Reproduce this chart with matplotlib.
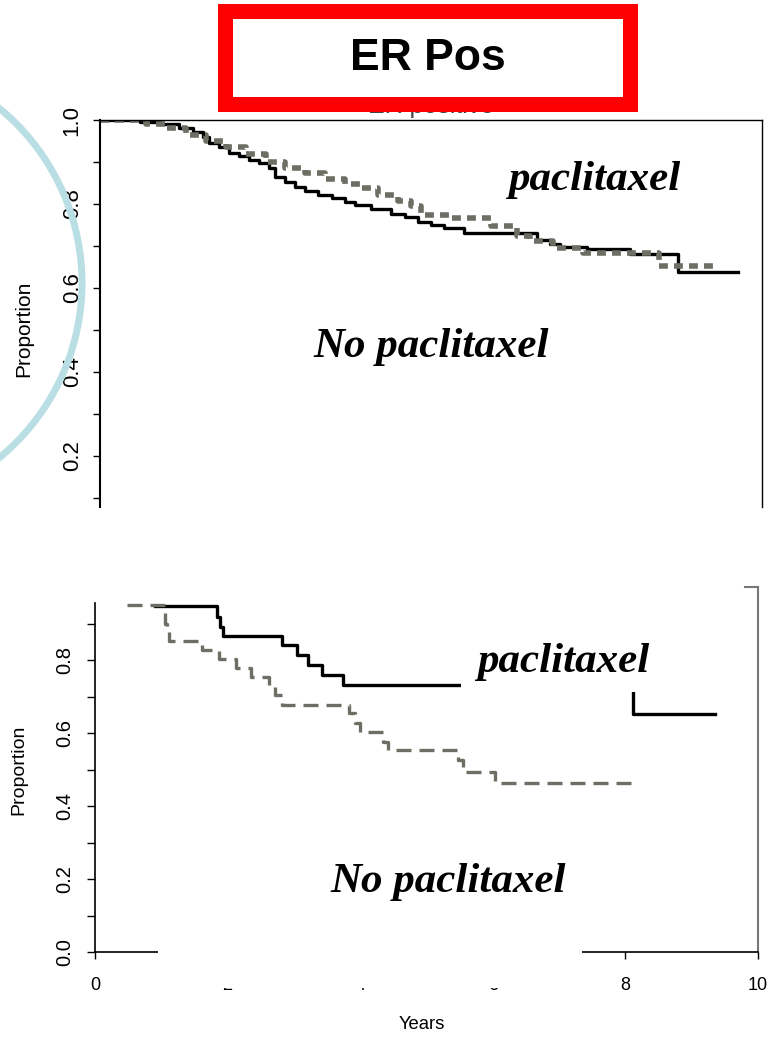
import matplotlib
matplotlib.use("Agg")
import matplotlib.pyplot as plt
from matplotlib.patches import Rectangle, Circle

plt.rcParams['font.family'] = ['Liberation Sans', 'DejaVu Sans']

# top panel (ER positive) - Kaplan-Meier steps
top_solid_t = [0, 0.6, 0.9, 1.2, 1.4, 1.55, 1.65, 1.8, 1.95, 2.1, 2.25, 2.4, 2.55, 2.65,
               2.8, 2.95, 3.1, 3.3, 3.5, 3.7, 3.85, 4.1, 4.4, 4.6, 4.8, 5.0, 5.2, 5.5,
               6.6, 6.8, 6.95, 7.35, 8.0, 8.73, 9.64]
top_solid_s = [1.0, 0.995, 0.99, 0.98, 0.972, 0.96, 0.945, 0.935, 0.922, 0.915, 0.905, 0.897,
               0.886, 0.865, 0.852, 0.84, 0.83, 0.822, 0.815, 0.805, 0.797, 0.788, 0.777, 0.77,
               0.757, 0.75, 0.743, 0.731, 0.715, 0.705, 0.697, 0.693, 0.681, 0.638, 0.638]
top_dash_t = [0, 0.7, 1.0, 1.3, 1.6, 1.9, 2.2, 2.5, 2.8, 3.1, 3.4, 3.7, 3.95, 4.2, 4.5,
              4.7, 4.85, 5.3, 5.9, 6.3, 6.5, 6.85, 7.3, 8.45, 9.34]
top_dash_s = [1.0, 0.99, 0.98, 0.965, 0.95, 0.935, 0.918, 0.9, 0.885, 0.875, 0.86, 0.848,
              0.837, 0.822, 0.808, 0.795, 0.775, 0.767, 0.748, 0.725, 0.712, 0.695, 0.683,
              0.652, 0.652]

# bottom panel
bot_solid_t = [0.9, 1.84, 1.88, 1.93, 2.82, 3.04, 3.22, 3.42, 3.74, 8.12, 9.35]
bot_solid_s = [0.948, 0.918, 0.89, 0.866, 0.841, 0.814, 0.786, 0.759, 0.731, 0.652, 0.652]
bot_dash_t = [0.48, 1.05, 1.08, 1.12, 1.62, 1.87, 2.12, 2.36, 2.62, 2.72, 2.82, 3.83, 3.92,
              4.0, 4.35, 4.42, 5.47, 5.55, 6.03, 8.12]
bot_dash_s = [0.951, 0.90, 0.877, 0.852, 0.827, 0.803, 0.778, 0.753, 0.726, 0.704, 0.677,
              0.655, 0.627, 0.603, 0.575, 0.553, 0.526, 0.493, 0.463, 0.463]

top_major = [0.2, 0.4, 0.6, 0.8, 1.0]
top_minor = [0.1, 0.3, 0.5, 0.7, 0.9]
bot_major = [0.0, 0.2, 0.4, 0.6, 0.8]
bot_minor = [0.1, 0.3, 0.5, 0.7, 0.9]
x_ticks = [0, 2, 4, 6, 8, 10]

W, H = 776, 1041
fig = plt.figure(figsize=(W / 100, H / 100), dpi=100)
gray = '#6e6e64'

# ---- top panel
ax1 = fig.add_axes([100 / W, 1 - 507 / H, 662 / W, 387 / H])
ax1.step(top_solid_t, top_solid_s, where='post', color='black', lw=2.4)
ax1.step(top_dash_t, top_dash_s, where='post', color=gray, lw=4.0, dashes=(1.6, 1.1))
ax1.set_xlim(0, 10)
ax1.set_ylim(0.0786, 1.0)
ax1.set_xticks([])
ax1.set_yticks(top_major)
ax1.set_yticklabels([f'{v:.1f}' for v in top_major])
ax1.set_yticks(top_minor, minor=True)
ax1.tick_params(axis='y', which='both', length=5, width=1, labelsize=16, pad=15)
plt.setp(ax1.get_yticklabels(), rotation=90, va='center', ha='center')
ax1.spines['bottom'].set_visible(False)
ax1.spines['left'].set_linewidth(1.5)
ax1.spines['top'].set_linewidth(1.0)
ax1.spines['right'].set_linewidth(1.0)
ax1.set_ylabel('Proportion', fontsize=15)
ax1.yaxis.set_label_coords(-0.101, 0.46)

# ---- bottom panel
ax2 = fig.add_axes([95 / W, 1 - 952 / H, 663 / W, 365 / H])
ax2.step(bot_solid_t, bot_solid_s, where='post', color='black', lw=2.4)
ax2.step(bot_dash_t, bot_dash_s, where='post', color=gray, lw=2.4, dashes=(4.5, 2.4))
ax2.set_xlim(0, 10)
ax2.set_ylim(0, 1)
ax2.set_xticks(x_ticks)
ax2.set_xticklabels([str(v) for v in x_ticks])
ax2.set_yticks(bot_major)
ax2.set_yticklabels([f'{v:.1f}' for v in bot_major])
ax2.set_yticks(bot_minor, minor=True)
ax2.tick_params(axis='y', which='both', length=5.5, width=1, labelsize=14.5, pad=16)
ax2.tick_params(axis='x', length=5, width=1, labelsize=13, pad=13)
plt.setp(ax2.get_yticklabels(), rotation=90, va='center', ha='center')
ax2.spines['top'].set_visible(False)
ax2.spines['left'].set_bounds(0, 0.956)
ax2.spines['left'].set_linewidth(1.2)
ax2.spines['bottom'].set_linewidth(1.2)
ax2.spines['right'].set_color('#777777')
ax2.spines['right'].set_linewidth(1.5)
ax2.plot([0.98, 1.0], [1, 1], transform=ax2.transAxes, color='#777777', lw=1.5, clip_on=False)
ax2.set_ylabel('Proportion', fontsize=14)
ax2.yaxis.set_label_coords(-0.1026, 0.499)
ax2.set_xlabel('Years', fontsize=13.3)
ax2.xaxis.set_label_coords(0.493, -0.175)

# ---- slide decorations drawn on top (pixel coordinates)
ov = fig.add_axes([0, 0, 1, 1], zorder=10)
ov.set_xlim(0, W)
ov.set_ylim(H, 0)
ov.axis('off')

ov.text(431, 113.5, 'ER positive', fontsize=18, ha='center', va='baseline', color='#444444', zorder=1)
ov.add_patch(Rectangle((218, 4), 420, 108, facecolor='#ff0000', edgecolor='none', zorder=2))
ov.add_patch(Rectangle((233, 19), 390, 78, facecolor='white', edgecolor='none', zorder=3))
ov.text(428, 59, 'ER Pos', fontsize=32, weight='bold', ha='center', va='center', zorder=4)

ov.add_patch(Circle((-144, 283), 226, fill=False, edgecolor='#b9dee4', lw=5, zorder=2))

# white boxes that hide parts of the lower plot
ov.add_patch(Rectangle((158, 938), 424, 50, facecolor='white', edgecolor='none', zorder=2))
ov.add_patch(Rectangle((461, 625), 175, 67, facecolor='white', edgecolor='none', zorder=2))

serif = dict(family=['Liberation Serif', 'DejaVu Serif'], weight='bold', style='italic',
             fontsize=31, ha='left', va='baseline', zorder=5)
ov.text(508, 190, 'paclitaxel', **serif)
ov.text(313, 357, 'No paclitaxel', **serif)
ov.text(477, 672, 'paclitaxel', **serif)
ov.text(330, 892, 'No paclitaxel', **serif)

fig.savefig('out.png', dpi=100)
